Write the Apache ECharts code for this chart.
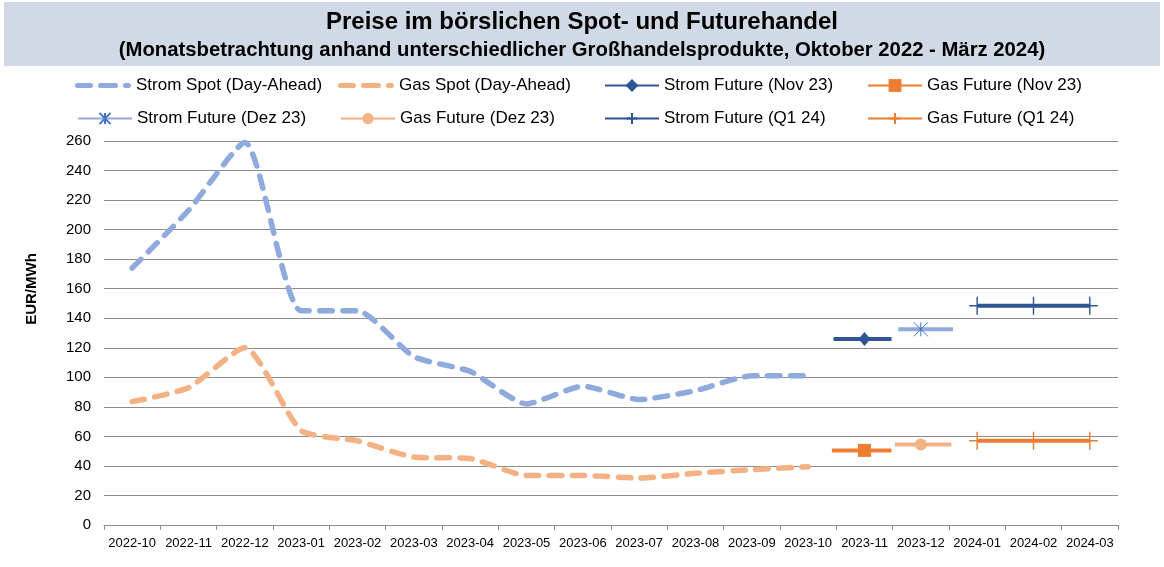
<!DOCTYPE html>
<html>
<head>
<meta charset="utf-8">
<script src="https://cdn.jsdelivr.net/npm/echarts@6/dist/echarts.min.js"></script>
<style>
html,body{margin:0;padding:0;background:#fff;}
#c{width:1164px;height:567px;}
</style>
</head>
<body>
<div id="c"></div>
<script>
// ---- data ----
const categories = ['2022-10','2022-11','2022-12','2023-01','2023-02','2023-03','2023-04','2023-05','2023-06','2023-07','2023-08','2023-09','2023-10','2023-11','2023-12','2024-01','2024-02','2024-03'];
const stromSpot = [174, 213, 259, 145, 145, 114, 104, 82, 94, 85, 91, 101, 101, null, null, null, null, null];
const gasSpot   = [83.5, 93, 120, 64, 57, 46, 45, 33.5, 33.5, 31.8, 35, 37.5, 39.5, null, null, null, null, null];
const stromFutNov = 126;
const gasFutNov = 50.5;
const stromFutDez = 132.5;
const gasFutDez = 54.5;
const stromFutQ1 = 148.5;
const gasFutQ1 = 57;
const yTicks = {min: 0, max: 260, interval: 20};

const idxNov = categories.indexOf('2023-11');
const idxDez = categories.indexOf('2023-12');
const idxQ1 = ['2024-01','2024-02','2024-03'].map(c => categories.indexOf(c));

const FONT = 'Liberation Sans';
const C_STROM_SPOT = '#8faadc';
const C_GAS_SPOT = '#f4b183';
const C_STROM_DARK = '#2f5597';
const C_GAS_DARK = '#ed7d31';

function monthSpan(idx, val, s0, s1) {
  return [
    {value: [idx + s0, val], symbol: 'none'},
    {value: [idx + 0.5, val]},
    {value: [idx + s1, val], symbol: 'none'}
  ];
}
function quarterSpan(idxs, val) {
  return idxs.map(i => ({value: [i + 0.5, val]}));
}

const plusPath = 'path://M8,0L8,16M0,8L16,8';
const starPath = 'path://M7,0L7,14M0,0L14,14M14,0L0,14';
const dashIcon = 'path://M2.5,0H15.5A2.5,2.5 0 0 1 15.5,5H2.5A2.5,2.5 0 0 1 2.5,0Z M25.5,0H40.5A2.5,2.5 0 0 1 40.5,5H25.5A2.5,2.5 0 0 1 25.5,0Z M50.5,0H53.5A2.5,2.5 0 0 1 53.5,5H50.5A2.5,2.5 0 0 1 50.5,0Z';

const spotDash = {width: 5.5, type: [12.5, 10.5], cap: 'round', join: 'round'};

const chart = echarts.init(document.getElementById('c'), null, {renderer: 'canvas'});

function leg(name, left, top, opts) {
  return Object.assign({
    left: left, top: top, padding: 0, itemWidth: 54, itemHeight: 14,
    selectedMode: false, data: [name],
    textStyle: {fontFamily: FONT, fontSize: 17, color: '#000'}
  }, opts || {});
}
const rowA = 77, rowB = 110;

chart.setOption({
  animation: false,
  backgroundColor: '#fff',
  graphic: [{
    type: 'rect', z: -10, shape: {x: 4, y: 2, width: 1156, height: 64},
    style: {fill: '#d0d9e5'}
  }, {
    type: 'text', x: 32, y: 289, rotation: Math.PI / 2,
    style: {text: 'EUR/MWh', fontFamily: FONT, fontWeight: 'bold', fontSize: 15, fill: '#000',
            align: 'center', verticalAlign: 'middle'}
  }],
  title: [{
    text: 'Preise im börslichen Spot- und Futurehandel',
    left: 'center', top: 5,
    textStyle: {fontFamily: FONT, fontWeight: 'bold', fontSize: 24, color: '#000'}
  }, {
    text: '(Monatsbetrachtung anhand unterschiedlicher Großhandelsprodukte, Oktober 2022 - März 2024)',
    left: 'center', top: 35,
    textStyle: {fontFamily: FONT, fontWeight: 'bold', fontSize: 20.3, color: '#000'}
  }],
  legend: [
    leg({name: 'Strom Spot (Day-Ahead)', icon: dashIcon}, 75, rowA, {itemWidth: 56, itemHeight: 5}),
    leg({name: 'Gas Spot (Day-Ahead)', icon: dashIcon}, 338, rowA, {itemWidth: 56, itemHeight: 5}),
    leg('Strom Future (Nov 23)', 604, rowA, {itemHeight: 16}),
    leg('Gas Future (Nov 23)', 867, rowA, {itemHeight: 16}),
    leg('Strom Future (Dez 23)', 77, rowB),
    leg('Gas Future (Dez 23)', 340, rowB),
    leg('Strom Future (Q1 24)', 604, rowB),
    leg('Gas Future (Q1 24)', 867, rowB)
  ],
  grid: {left: 104, right: 46, top: 141, bottom: 42, containLabel: false},
  xAxis: [{
    type: 'category', data: categories, boundaryGap: true,
    axisLine: {lineStyle: {color: '#8c8c8c', width: 1}},
    axisTick: {show: true, length: 5, lineStyle: {color: '#8c8c8c'}},
    axisLabel: {fontFamily: FONT, fontSize: 13, color: '#000', margin: 12, interval: 0},
    splitLine: {show: false}
  }, {
    type: 'value', min: 0, max: categories.length, show: false
  }],
  yAxis: {
    type: 'value', min: yTicks.min, max: yTicks.max, interval: yTicks.interval,
    axisLine: {show: false}, axisTick: {show: false},
    axisLabel: {fontFamily: FONT, fontSize: 15, color: '#000', margin: 13},
    splitLine: {lineStyle: {color: '#8c8c8c', width: 1}}
  },
  series: [
    {
      name: 'Strom Spot (Day-Ahead)', type: 'line', xAxisIndex: 0, data: stromSpot,
      smooth: 0.2, symbol: 'none', color: C_STROM_SPOT,
      lineStyle: Object.assign({color: C_STROM_SPOT}, spotDash)
    },
    {
      name: 'Gas Spot (Day-Ahead)', type: 'line', xAxisIndex: 0, data: gasSpot,
      smooth: 0.2, symbol: 'none', color: C_GAS_SPOT,
      lineStyle: Object.assign({color: C_GAS_SPOT}, spotDash)
    },
    {
      name: 'Strom Future (Nov 23)', type: 'line', xAxisIndex: 1, data: monthSpan(idxNov, stromFutNov, -0.05, 0.98),
      symbol: 'diamond', symbolSize: [12, 14], showAllSymbol: true, color: C_STROM_DARK,
      itemStyle: {color: C_STROM_DARK}, lineStyle: {color: C_STROM_DARK, width: 4}
    },
    {
      name: 'Gas Future (Nov 23)', type: 'line', xAxisIndex: 1, data: monthSpan(idxNov, gasFutNov, -0.08, 0.98),
      symbol: 'rect', symbolSize: 13, showAllSymbol: true, color: C_GAS_DARK,
      itemStyle: {color: C_GAS_DARK}, lineStyle: {color: C_GAS_DARK, width: 4}
    },
    {
      name: 'Strom Future (Dez 23)', type: 'line', xAxisIndex: 1, data: monthSpan(idxDez, stromFutDez, 0.1, 1.07),
      symbol: starPath, symbolSize: 14, showAllSymbol: true, color: '#4472c4',
      itemStyle: {color: 'transparent', borderColor: '#4472c4', borderWidth: 1},
      lineStyle: {color: C_STROM_SPOT, width: 4}
    },
    {
      name: 'Gas Future (Dez 23)', type: 'line', xAxisIndex: 1, data: monthSpan(idxDez, gasFutDez, 0.04, 1.04),
      symbol: 'circle', symbolSize: 12, showAllSymbol: true, color: C_GAS_SPOT,
      itemStyle: {color: C_GAS_SPOT}, lineStyle: {color: C_GAS_SPOT, width: 4}
    },
    {
      name: 'Strom Future (Q1 24)', type: 'line', xAxisIndex: 1, data: quarterSpan(idxQ1, stromFutQ1),
      symbol: plusPath, symbolSize: [16, 18], showAllSymbol: true, color: C_STROM_DARK,
      itemStyle: {color: 'transparent', borderColor: C_STROM_DARK, borderWidth: 1.5},
      lineStyle: {color: C_STROM_DARK, width: 4}
    },
    {
      name: 'Gas Future (Q1 24)', type: 'line', xAxisIndex: 1, data: quarterSpan(idxQ1, gasFutQ1),
      symbol: plusPath, symbolSize: [16, 18], showAllSymbol: true, color: C_GAS_DARK,
      itemStyle: {color: 'transparent', borderColor: C_GAS_DARK, borderWidth: 1.5},
      lineStyle: {color: C_GAS_DARK, width: 4}
    }
  ]
});
</script>
</body>
</html>
